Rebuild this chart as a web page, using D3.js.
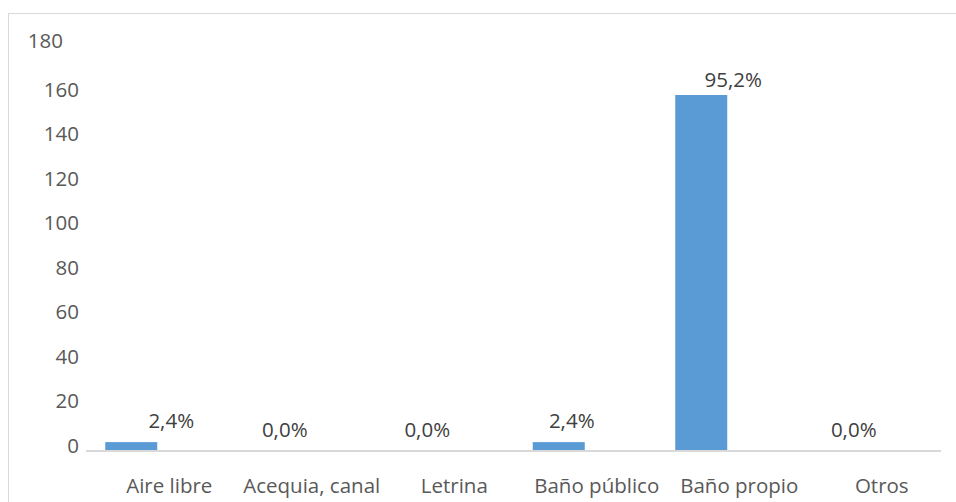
<!DOCTYPE html>
<html>
<head>
<meta charset="utf-8">
<script src="https://cdn.jsdelivr.net/npm/d3@7"></script>
<style>
  html, body { margin: 0; padding: 0; background: #fff; }
  svg { display: block; }
  text { font-family: "Open Sans", "Noto Sans", sans-serif; }
</style>
</head>
<body>
<svg id="chart" width="956" height="502"></svg>
<script>
const categories = ["Aire libre", "Acequia, canal", "Letrina", "Baño público", "Baño propio", "Otros"];
const counts = [4, 0, 0, 4, 160, 0];
const percentLabels = ["2,4%", "0,0%", "0,0%", "2,4%", "95,2%", "0,0%"];
const yTicks = [0, 20, 40, 60, 80, 100, 120, 140, 160, 180];

const W = 956, H = 502;
const FS = 20.5;
// horizontal nudge of each data label from its category centre (manual placement in the original)
const labelDx = [14, -15, -15, -13, 6, -16];
const svg = d3.select("#chart");

// frame
svg.append("rect")
  .attr("x", 8.5).attr("y", 13.5)
  .attr("width", W).attr("height", H)
  .attr("fill", "none").attr("stroke", "#d9d9d9").attr("stroke-width", 1);

const plot = { left: 86, right: 941, top: 50.5, bottom: 451 };

const x = d3.scaleBand().domain(categories).range([plot.left, plot.right]).paddingInner(0).paddingOuter(0);
const y = d3.scaleLinear().domain([0, 180]).range([plot.bottom, plot.top]);

// clustered layout: visible series occupies the first of two slots
const sub = d3.scaleBand().domain(["count", "pct"]).range([0, x.bandwidth()])
  .paddingInner(0).paddingOuter(0.37);

// y axis labels
const yAxis = d3.axisLeft(y).tickValues(yTicks).tickSize(0).tickPadding(0);
const gy = svg.append("g").attr("transform", `translate(79,0)`).call(yAxis);
gy.select(".domain").remove();
gy.selectAll("text")
  .attr("fill", "#595959")
  .attr("font-size", FS)
  .attr("font-family", "'Open Sans', sans-serif")
  .attr("dy", "0.05em")
  .attr("dx", d => d === 180 ? -16 : 0)
  .attr("transform", d => d === 180 ? "translate(0,-4)" : null);

// bars
svg.append("g").selectAll("rect")
  .data(categories)
  .join("rect")
  .attr("x", (d) => x(d) + sub("count"))
  .attr("width", sub.bandwidth())
  .attr("y", (d, i) => y(counts[i]))
  .attr("height", (d, i) => y(0) - y(counts[i]))
  .attr("fill", "#5b9bd5");

// baseline
svg.append("line")
  .attr("x1", plot.left).attr("x2", plot.right)
  .attr("y1", y(0)).attr("y2", y(0))
  .attr("stroke", "#d9d9d9").attr("stroke-width", 2);

// data labels
svg.append("g").selectAll("text")
  .data(categories)
  .join("text")
  .attr("x", (d, i) => x(d) + x.bandwidth() / 2 + labelDx[i])
  .attr("y", (d, i) => y(counts[i]) - (counts[i] > 100 ? 8 : 14))
  .attr("text-anchor", "middle")
  .attr("font-size", FS)
  .attr("fill", "#404040")
  .text((d, i) => percentLabels[i]);

// x axis labels
const xAxis = d3.axisBottom(x).tickSize(0).tickPadding(0);
const gx = svg.append("g").attr("transform", `translate(0,${y(0)})`).call(xAxis);
gx.select(".domain").remove();
gx.selectAll("text")
  .attr("fill", "#595959")
  .attr("font-size", FS)
  .attr("font-family", "'Open Sans', sans-serif")
  .attr("dy", 0)
  .attr("y", 42)
  .attr("dx", 12);
</script>
</body>
</html>
